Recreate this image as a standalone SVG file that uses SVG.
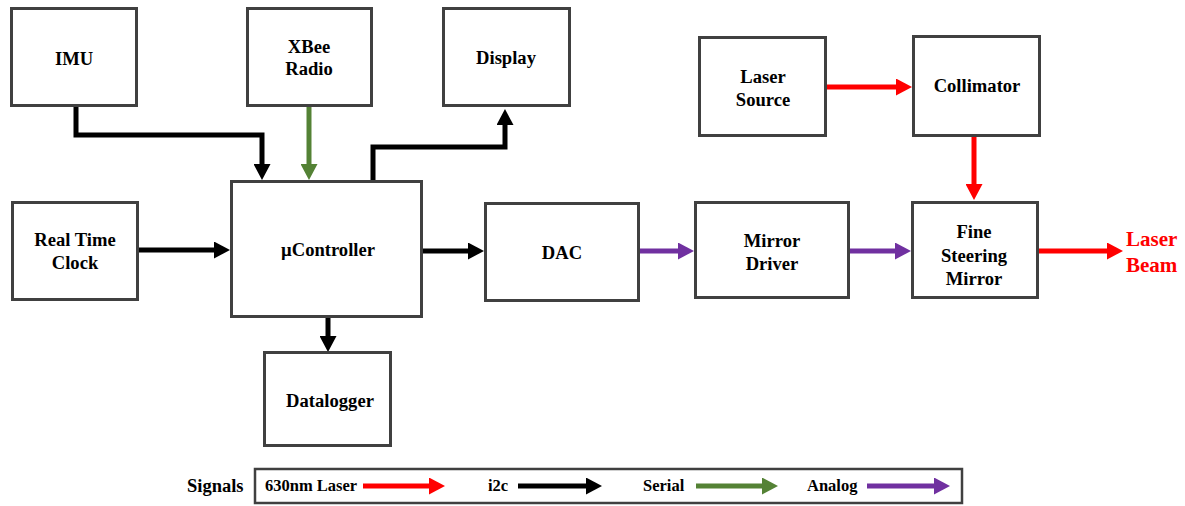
<svg xmlns="http://www.w3.org/2000/svg" width="1185" height="506" viewBox="0 0 1185 506">
<style>
.box{fill:#fff;stroke:#404040;stroke-width:3}
.t{font-family:"Liberation Serif","Times New Roman",serif;font-weight:bold;font-size:18.6px;fill:#000;text-anchor:middle}
.lg{font-family:"Liberation Serif","Times New Roman",serif;font-weight:bold;font-size:16.5px;fill:#000}
.c{fill:none;stroke-width:5}
.k{stroke:#000}
.r{stroke:#ff0000}
.g{stroke:#548235}
.p{stroke:#7030a0}
</style>
<defs>
<marker id="hk" markerUnits="userSpaceOnUse" markerWidth="17" markerHeight="17" refX="0" refY="8.5" orient="auto"><path d="M0,0 L16,8.5 L0,17 z" fill="#000"/></marker>
<marker id="hr" markerUnits="userSpaceOnUse" markerWidth="17" markerHeight="17" refX="0" refY="8.5" orient="auto"><path d="M0,0 L16,8.5 L0,17 z" fill="#ff0000"/></marker>
<marker id="hg" markerUnits="userSpaceOnUse" markerWidth="17" markerHeight="17" refX="0" refY="8.5" orient="auto"><path d="M0,0 L16,8.5 L0,17 z" fill="#548235"/></marker>
<marker id="hp" markerUnits="userSpaceOnUse" markerWidth="17" markerHeight="17" refX="0" refY="8.5" orient="auto"><path d="M0,0 L16,8.5 L0,17 z" fill="#7030a0"/></marker>
</defs>
<rect width="1185" height="506" fill="#fff"/>

<g id="connectors">
<path class="c k" d="M76,106 V135 H262 V164" marker-end="url(#hk)"/>
<path class="c g" d="M309,106 V164" marker-end="url(#hg)"/>
<path class="c k" d="M373,181 V147 H505 V125" marker-end="url(#hk)"/>
<path class="c k" d="M138,250 H214" marker-end="url(#hk)"/>
<path class="c k" d="M422,251 H468" marker-end="url(#hk)"/>
<path class="c p" d="M639,251 H678" marker-end="url(#hp)"/>
<path class="c p" d="M849,251 H895" marker-end="url(#hp)"/>
<path class="c k" d="M328,317 V336" marker-end="url(#hk)"/>
<path class="c r" d="M826,87 H896" marker-end="url(#hr)"/>
<path class="c r" d="M974,136 V184" marker-end="url(#hr)"/>
<path class="c r" d="M1038,251 H1107" marker-end="url(#hr)"/>
</g>

<g id="imu"><rect class="box" x="11.5" y="8.5" width="125" height="97"/><text class="t" x="74" y="65">IMU</text></g>
<g id="xbee"><rect class="box" x="247.5" y="8.5" width="124" height="97"/><text class="t" x="309" y="53">XBee</text><text class="t" x="309" y="75">Radio</text></g>
<g id="display"><rect class="box" x="443.5" y="8.5" width="126" height="97"/><text class="t" x="506" y="64">Display</text></g>
<g id="laser-source"><rect class="box" x="699.5" y="37.5" width="126" height="98"/><text class="t" x="763" y="83">Laser</text><text class="t" x="763" y="106">Source</text></g>
<g id="collimator"><rect class="box" x="913.5" y="36.5" width="126" height="99"/><text class="t" x="977" y="92">Collimator</text></g>
<g id="rtc"><rect class="box" x="12.5" y="202.5" width="125" height="97"/><text class="t" x="75" y="246">Real Time</text><text class="t" x="75" y="269">Clock</text></g>
<g id="ucontroller"><rect class="box" x="231.5" y="181.5" width="190" height="135"/><text class="t" x="328" y="256">µController</text></g>
<g id="dac"><rect class="box" x="485.5" y="203.5" width="153" height="97"/><text class="t" x="562" y="259">DAC</text></g>
<g id="mirror-driver"><rect class="box" x="695.5" y="202.5" width="153" height="95"/><text class="t" x="772" y="247">Mirror</text><text class="t" x="772" y="270">Driver</text></g>
<g id="fsm"><rect class="box" x="912.5" y="202.5" width="125" height="95"/><text class="t" x="974" y="238">Fine</text><text class="t" x="974" y="262">Steering</text><text class="t" x="974" y="285">Mirror</text></g>
<g id="datalogger"><rect class="box" x="264.5" y="352.5" width="126" height="93"/><text class="t" x="330" y="407">Datalogger</text></g>
<g id="laser-beam"><text x="1126" y="246" style="font-family:'Liberation Serif','Times New Roman',serif;font-weight:bold;font-size:21px;fill:#ff0000">Laser</text><text x="1126" y="272" style="font-family:'Liberation Serif','Times New Roman',serif;font-weight:bold;font-size:21px;fill:#ff0000">Beam</text></g>

<g id="legend">
<text x="187" y="492" style="font-family:'Liberation Serif','Times New Roman',serif;font-weight:bold;font-size:18.5px;fill:#000">Signals</text>
<rect x="255" y="469" width="707" height="34" fill="#fff" stroke="#404040" stroke-width="2.5"/>
<text class="lg" x="265" y="491">630nm Laser</text>
<path class="c r" d="M363,486 H429" marker-end="url(#hr)"/>
<text class="lg" x="488" y="491">i2c</text>
<path class="c k" d="M518,486 H586" marker-end="url(#hk)"/>
<text class="lg" x="643" y="491">Serial</text>
<path class="c g" d="M696,486 H762" marker-end="url(#hg)"/>
<text class="lg" x="807" y="491">Analog</text>
<path class="c p" d="M867,486 H934" marker-end="url(#hp)"/>
</g>
</svg>
